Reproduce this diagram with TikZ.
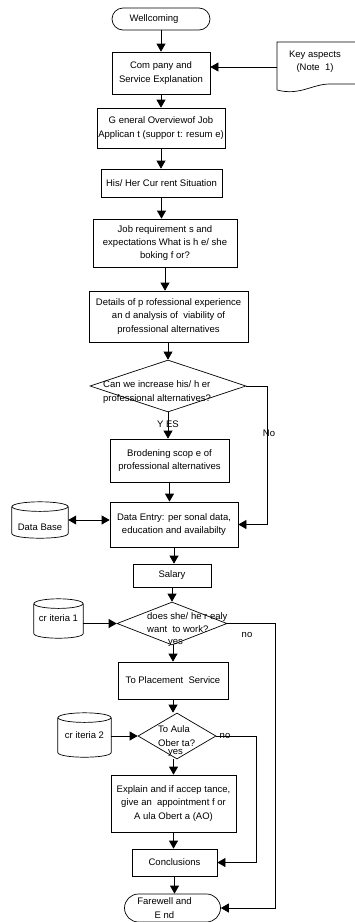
\documentclass[tikz,border=0pt]{standalone}
\usepackage{fontspec}
\setmainfont{Liberation Sans}
\usetikzlibrary{shapes.geometric,arrows.meta}

% drum-shaped store: name, cx, cy, width, height, text, text shift
\newcommand\drum[7]{%
  \node[minimum width=#4pt, minimum height=#5pt, inner sep=0pt,
        label={[yshift=#7pt]center:#6}] (#1) at (#2,#3) {};
  \draw[line] ([yshift=-4.8pt]#1.north) ellipse [x radius=0.5*#4pt, y radius=4.8pt];
  \draw[line] ([yshift=-4.8pt]#1.north west) -- ([yshift=4.8pt]#1.south west)
    .. controls +(0,6.4) and +(0,6.4) .. ([yshift=4.8pt]#1.south east)
    -- ([yshift=-4.8pt]#1.north east);
}

\begin{document}
\begin{tikzpicture}[x=1pt,y=-1pt,
  every node/.style={font=\fontsize{9.5}{13.4}\selectfont, align=center},
  every label/.style={font=\fontsize{9.5}{13.4}\selectfont, align=center},
  line/.style={line width=0.7pt, draw=black},
  tip/.tip={Triangle[width=9pt,length=8pt]},
  arr/.style={line, -tip},
  proc/.style={line, rectangle, inner sep=0pt},
  term/.style={line, rectangle, inner sep=0pt},
  decision/.style={line, diamond, inner sep=0pt},
  tag/.style={inner sep=0pt}
]
\useasboundingbox (0,0) rectangle (354,922);

% terminals
\node[term, minimum width=98pt, minimum height=22pt, rounded corners=11pt,
      label={[xshift=-7pt]center:Wellcoming}] (well) at (161,19) {};
\node[term, minimum width=96pt, minimum height=28pt, rounded corners=14pt,
      label={[xshift=-8pt]center:Farewell and\\E nd}] (fw) at (172.5,908) {};

% process boxes
\node[proc, minimum width=98pt,  minimum height=42pt] (comp) at (161,73)
  {Com pany and\\Service Explanation};
\node[proc, minimum width=128pt, minimum height=40pt] (gen) at (161,128)
  {G eneral Overviewof Job\\Applican t (suppor t: resum e)};
\node[proc, minimum width=121pt, minimum height=28pt] (his) at (161.5,183)
  {His/ Her Cur rent Situation};
\node[proc, minimum width=144pt, minimum height=48pt] (job) at (165,243)
  {Job requirement s and\\expectations What is h e/ she\\boking f or?};
\node[proc, minimum width=159pt, minimum height=51pt] (det) at (168.5,316.5)
  {Details of p rofessional experience\\an d analysis of\ \ viability of\\professional alternatives};
\node[proc, minimum width=119pt, minimum height=43pt] (brod) at (169.5,460.5)
  {Brodening scop e of\\professional alternatives};
\node[proc, minimum width=128pt, minimum height=45pt] (de) at (174,524.5)
  {Data Entry: per sonal data,\\education and availabilty};
\node[proc, minimum width=78pt,  minimum height=23pt] (sal) at (172,575.5) {Salary};
\node[proc, minimum width=110pt, minimum height=37pt] (plc) at (173,680.5)
  {To Placement\ \ Service};
\node[proc, minimum width=125pt, minimum height=57pt] (exp) at (173.5,803.5)
  {Explain and if accep tance,\\give an\ \ appointment f or\\A ula Obert a (AO)};
\node[proc, minimum width=85pt,  minimum height=27pt] (con) at (174.5,862.5) {Conclusions};

% decisions
\node[decision, minimum width=156pt, minimum height=52pt] (d1) at (168,386) {};
\node[tag, align=left, anchor=west] (d1t) at (103,392)
  {Can we increase his/ h er\\professional alternatives?};
\node[decision, minimum width=110pt, minimum height=43pt] (d2) at (172,623.5) {};
\node[tag, align=left, anchor=west] (d2t) at (147,622.5)
  {does she/ he r ealy\\want\ \ to work?};
\node[decision, minimum width=78pt, minimum height=46pt] (d3) at (177,736) {};
\node[tag, align=left, anchor=west] (d3t) at (158,736)
  {To Aula\\Ober ta?};

% stores
\drum{db}{40}{520}{56}{36}{Data Base}{-7}
\drum{c1}{58.5}{618.5}{49}{39}{cr iteria 1}{0}
\drum{c2}{84.5}{735}{53}{44}{cr iteria 2}{0}

% note document
\node[tag, minimum width=76pt, minimum height=40pt] (key) at (315,62)
  {Key aspects\\(Note\ \ 1)};
\draw[line] (277,90) -- (277,42) -- (362,42) -- (362,84) -- (330,84)
  .. controls (312,84) and (300,96) .. (277,90);

% main flow
\draw[arr] (well) -- (well |- comp.north);
\draw[arr] (comp) -- (comp |- gen.north);
\draw[arr] (gen) -- (gen |- his.north);
\draw[arr] (his) -- (his |- job.north);
\draw[arr] (job) -- (job |- det.north);
\draw[arr] (d1 |- det.south) -- (d1.north);
\draw[arr] (d1.south) -- (d1.south |- brod.north);
\draw[arr] (brod) -- (brod |- de.north);
\draw[arr] (de) -- (de |- sal.north);
\draw[arr] (sal) -- (sal |- d2.north);
\draw[arr] (d2.south -| plc) -- (plc.north);
\draw[arr] (plc) -- (plc |- d3.north);
\draw[arr] (d3.south -| exp) -- (exp.north);
\draw[arr] (exp) -- (exp |- con.north);
\draw[arr] (con) -- (con |- fw.north);

% side inputs
\draw[arr] ([yshift=-5pt]key.west) -- ([yshift=-5pt]key.west -| comp.east);
\draw[line, tip-tip] (db.east) -- (db.east -| de.west);
\draw[arr] (c1.east |- d2.west) -- (d2.west);
\draw[arr] (c2.east |- d3.west) -- (d3.west);

% "no" branches
\coordinate (n1) at (267,0);
\coordinate (n2) at (275,0);
\coordinate (n3) at (256,0);
\draw[arr] (d1.east) -- (d1.east -| n1) -- (n1 |- de.east) -- (de.east);
\draw[arr] (d2.east) -- (d2.east -| n2) -- (n2 |- fw.east) -- (fw.east);
\draw[arr] (d3.east) -- (d3.east -| n3) -- (n3 |- con.east) -- (con.east);

% branch labels
\node[tag] (yes1) at (168,424) {Y ES};
\node[tag] (no1) at (269,433) {No};
\node[tag] (yes2) at (175.5,643) {yes};
\node[tag] (no2) at (247,635) {no};
\node[tag] (yes3) at (175.5,753) {yes};
\node[tag] (no3) at (225,736) {no};
\end{tikzpicture}
\end{document}
